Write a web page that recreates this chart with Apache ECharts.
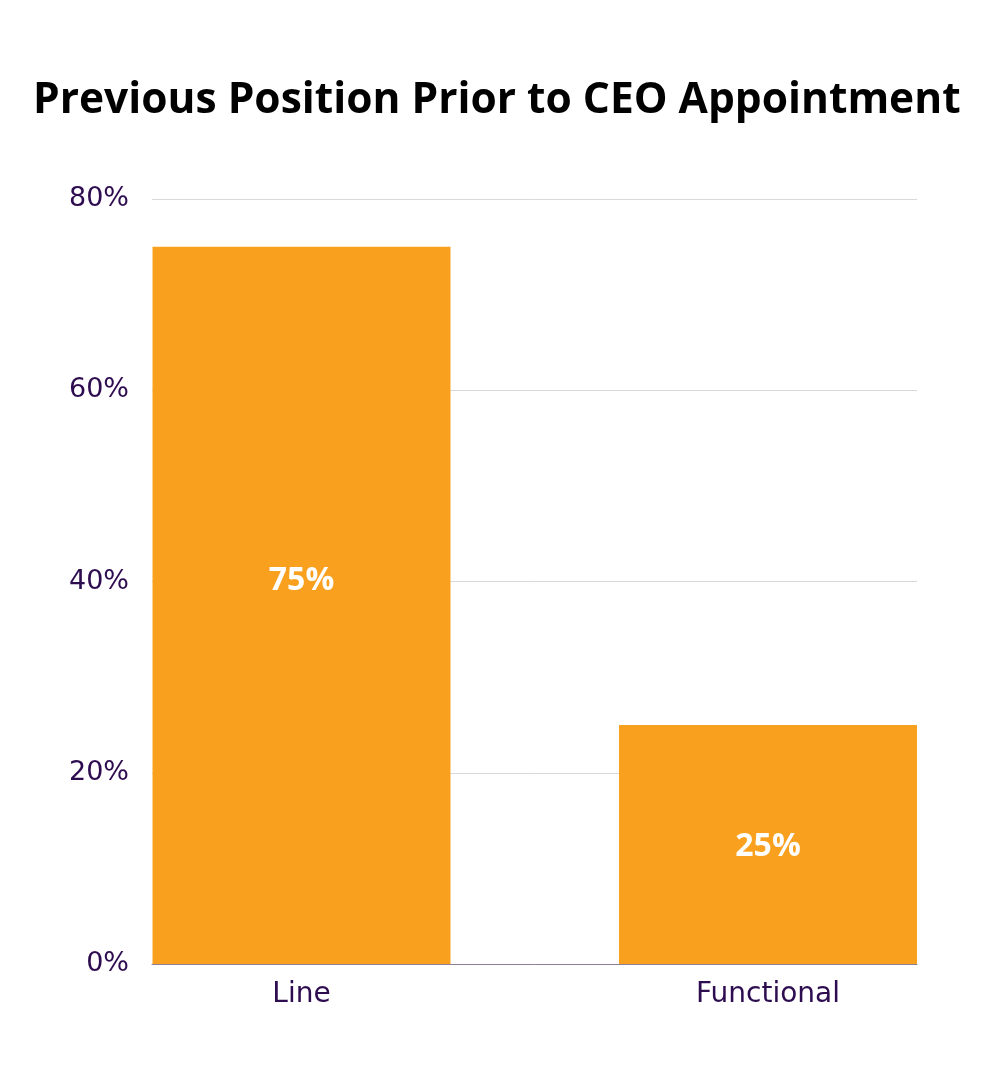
<!DOCTYPE html>
<html><head><meta charset="utf-8">
<script src="https://cdn.jsdelivr.net/npm/echarts@6/dist/echarts.min.js"></script>
<style>html,body{margin:0;padding:0;background:#fff}#c{width:998px;height:1080px}</style>
</head><body><div id="c"></div>
<script>
const title = 'Previous Position Prior to CEO Appointment';
const categories = ['Line', 'Functional'];
const values = [75, 25];
const yTicks = [0, 20, 40, 60, 80];

const chart = echarts.init(document.getElementById('c'), null, {renderer: 'canvas'});
const purple = '#2E0C50';
chart.setOption({
  backgroundColor: '#fff',
  animation: false,
  title: {
    text: title, left: 28, top: 74,
    textStyle: {fontFamily: 'Open Sans', fontWeight: 'bold', fontSize: 42.5, color: '#000'}
  },
  grid: [
    {left: 152, width: 765, top: 199, height: 765},
    {left: 301.5, width: 466.5, top: 199, height: 765}
  ],
  yAxis: [
    {gridIndex: 0, type: 'value', min: yTicks[0], max: yTicks[yTicks.length-1], interval: 20,
     axisLine: {show: false}, axisTick: {show: false},
     axisLabel: {formatter: '{value}%', color: purple, fontFamily: 'DejaVu Sans', fontSize: 27, margin: 23,
                 padding: [4, 0, 0, 0]},
     splitLine: {lineStyle: {color: '#d9d9d9', width: 1}}},
    {gridIndex: 1, type: 'value', min: 0, max: 80, show: false}
  ],
  xAxis: [
    {gridIndex: 0, type: 'category', data: categories,
     axisLine: {lineStyle: {color: '#8c7f99', width: 1}}, axisTick: {show: false},
     axisLabel: {show: false}},
    {gridIndex: 1, type: 'category', data: categories, boundaryGap: false,
     axisLine: {show: false}, axisTick: {show: false},
     axisLabel: {color: purple, fontFamily: 'DejaVu Sans', fontSize: 28, margin: 17}}
  ],
  series: [{
    type: 'bar', xAxisIndex: 1, yAxisIndex: 1, barWidth: 298, z: 1,
    itemStyle: {color: '#F9A11F'},
    label: {show: true, position: 'inside', formatter: '{c}%', color: '#fff',
            fontFamily: 'Open Sans', fontWeight: 'bold', fontSize: 32},
    data: values.map((v, i) => i === 0 ? {value: v, label: {offset: [0, -25]}} : {value: v, label: {offset: [0, 2]}})
  }]
});
</script></body></html>
